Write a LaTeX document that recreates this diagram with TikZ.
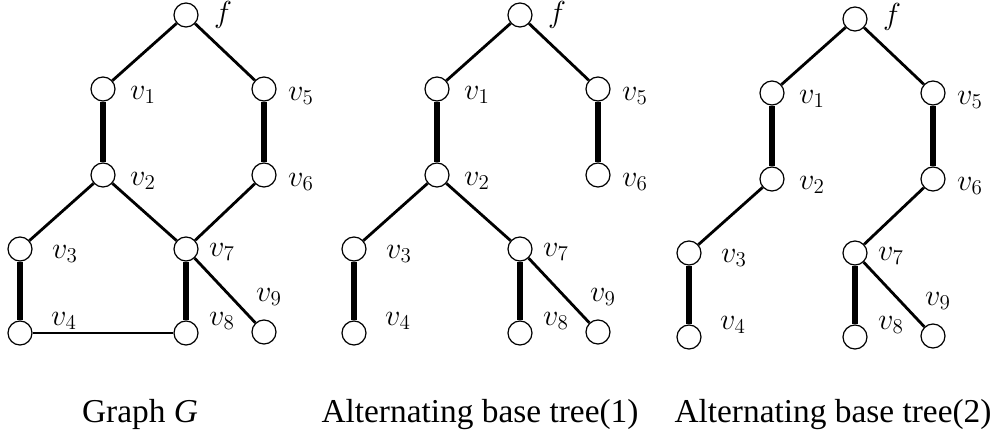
\documentclass[tikz,border=0pt]{standalone}
\usepackage{fontspec}
\setmainfont{Liberation Serif}
\usepackage{tikz}
\usetikzlibrary{positioning}

\begin{document}
\begin{tikzpicture}[
        x=0.02cm, y=-0.02cm,
        vtx/.style={draw, circle, fill=white, inner sep=0pt, minimum size=0.48cm, line width=0.7pt},
        lbl/.style={inner sep=0pt, font=\fontsize{17}{20}\selectfont},
        edge/.style={line width=1.6pt},
        matched/.style={line width=3.4pt},
        caption/.style={anchor=base, inner sep=0pt, font=\fontsize{19}{22}\selectfont}
    ]
        \useasboundingbox (0,0) rectangle (995,433);

        % Graph G
        \begin{scope}
            \node[vtx] (gf) at (186,15) {};
            \node[vtx] (g1) at (103,89) {};
            \node[vtx] (g5) at (264,89) {};
            \node[vtx] (g2) at (103,175) {};
            \node[vtx] (g6) at (264,175) {};
            \node[vtx] (g3) at (20,249) {};
            \node[vtx] (g7) at (186,249) {};
            \node[vtx] (g4) at (20,333) {};
            \node[vtx] (g8) at (186,333) {};
            \node[vtx] (g9) at (264,332) {};
            \node[lbl] at (223,15) {$f$};
            \node[lbl] at (143,95) {$v_1$};
            \node[lbl] at (301,96) {$v_5$};
            \node[lbl] at (143,181) {$v_2$};
            \node[lbl] at (301,182) {$v_6$};
            \node[lbl] at (65,254) {$v_3$};
            \node[lbl] at (222,252) {$v_7$};
            \node[lbl] at (269,297) {$v_9$};
            \node[lbl] at (64,321) {$v_4$};
            \node[lbl] at (222,321) {$v_8$};
            \draw[edge] (gf) -- (g1);
            \draw[edge] (gf) -- (g5);
            \draw[matched] (g1) -- (g2);
            \draw[matched] (g5) -- (g6);
            \draw[edge] (g2) -- (g3);
            \draw[edge] (g2) -- (g7);
            \draw[edge] (g6) -- (g7);
            \draw[matched] (g3) -- (g4);
            \draw[matched] (g7) -- (g8);
            \draw[edge] (g7) -- (g9);
            \draw[edge] (g4) -- (g8);
        \end{scope}

        % Alternating base tree(1)
        \begin{scope}[shift={(334,0)}]
            \node[vtx] (af) at (186,15) {};
            \node[vtx] (a1) at (103,89) {};
            \node[vtx] (a5) at (264,89) {};
            \node[vtx] (a2) at (103,175) {};
            \node[vtx] (a6) at (264,175) {};
            \node[vtx] (a3) at (20,249) {};
            \node[vtx] (a7) at (186,249) {};
            \node[vtx] (a4) at (20,333) {};
            \node[vtx] (a8) at (186,333) {};
            \node[vtx] (a9) at (264,332) {};
            \node[lbl] at (223,15) {$f$};
            \node[lbl] at (143,95) {$v_1$};
            \node[lbl] at (301,96) {$v_5$};
            \node[lbl] at (143,181) {$v_2$};
            \node[lbl] at (301,182) {$v_6$};
            \node[lbl] at (65,254) {$v_3$};
            \node[lbl] at (222,252) {$v_7$};
            \node[lbl] at (269,297) {$v_9$};
            \node[lbl] at (64,321) {$v_4$};
            \node[lbl] at (222,321) {$v_8$};
            \draw[edge] (af) -- (a1);
            \draw[edge] (af) -- (a5);
            \draw[matched] (a1) -- (a2);
            \draw[matched] (a5) -- (a6);
            \draw[edge] (a2) -- (a3);
            \draw[edge] (a2) -- (a7);
            \draw[matched] (a3) -- (a4);
            \draw[matched] (a7) -- (a8);
            \draw[edge] (a7) -- (a9);
        \end{scope}

        % Alternating base tree(2)
        \begin{scope}[shift={(669,4)}]
            \node[vtx] (bf) at (186,15) {};
            \node[vtx] (b1) at (103,89) {};
            \node[vtx] (b5) at (264,89) {};
            \node[vtx] (b2) at (103,175) {};
            \node[vtx] (b6) at (264,175) {};
            \node[vtx] (b3) at (20,249) {};
            \node[vtx] (b7) at (186,249) {};
            \node[vtx] (b4) at (20,333) {};
            \node[vtx] (b8) at (186,333) {};
            \node[vtx] (b9) at (264,332) {};
            \node[lbl] at (223,13) {$f$};
            \node[lbl] at (143,95) {$v_1$};
            \node[lbl] at (301,96) {$v_5$};
            \node[lbl] at (143,181) {$v_2$};
            \node[lbl] at (301,182) {$v_6$};
            \node[lbl] at (65,254) {$v_3$};
            \node[lbl] at (222,252) {$v_7$};
            \node[lbl] at (269,297) {$v_9$};
            \node[lbl] at (64,321) {$v_4$};
            \node[lbl] at (222,321) {$v_8$};
            \draw[edge] (bf) -- (b1);
            \draw[edge] (bf) -- (b5);
            \draw[matched] (b1) -- (b2);
            \draw[matched] (b5) -- (b6);
            \draw[edge] (b2) -- (b3);
            \draw[edge] (b6) -- (b7);
            \draw[matched] (b3) -- (b4);
            \draw[matched] (b7) -- (b8);
            \draw[edge] (b7) -- (b9);
        \end{scope}

        \node[caption] (capg) at (140,422) {Graph \textit{G}};
        \node[caption] (capa) at (480,422) {Alternating base tree(1)};
        \node[caption] (capb) at (833,422) {Alternating base tree(2)};
    \end{tikzpicture}
\end{document}
